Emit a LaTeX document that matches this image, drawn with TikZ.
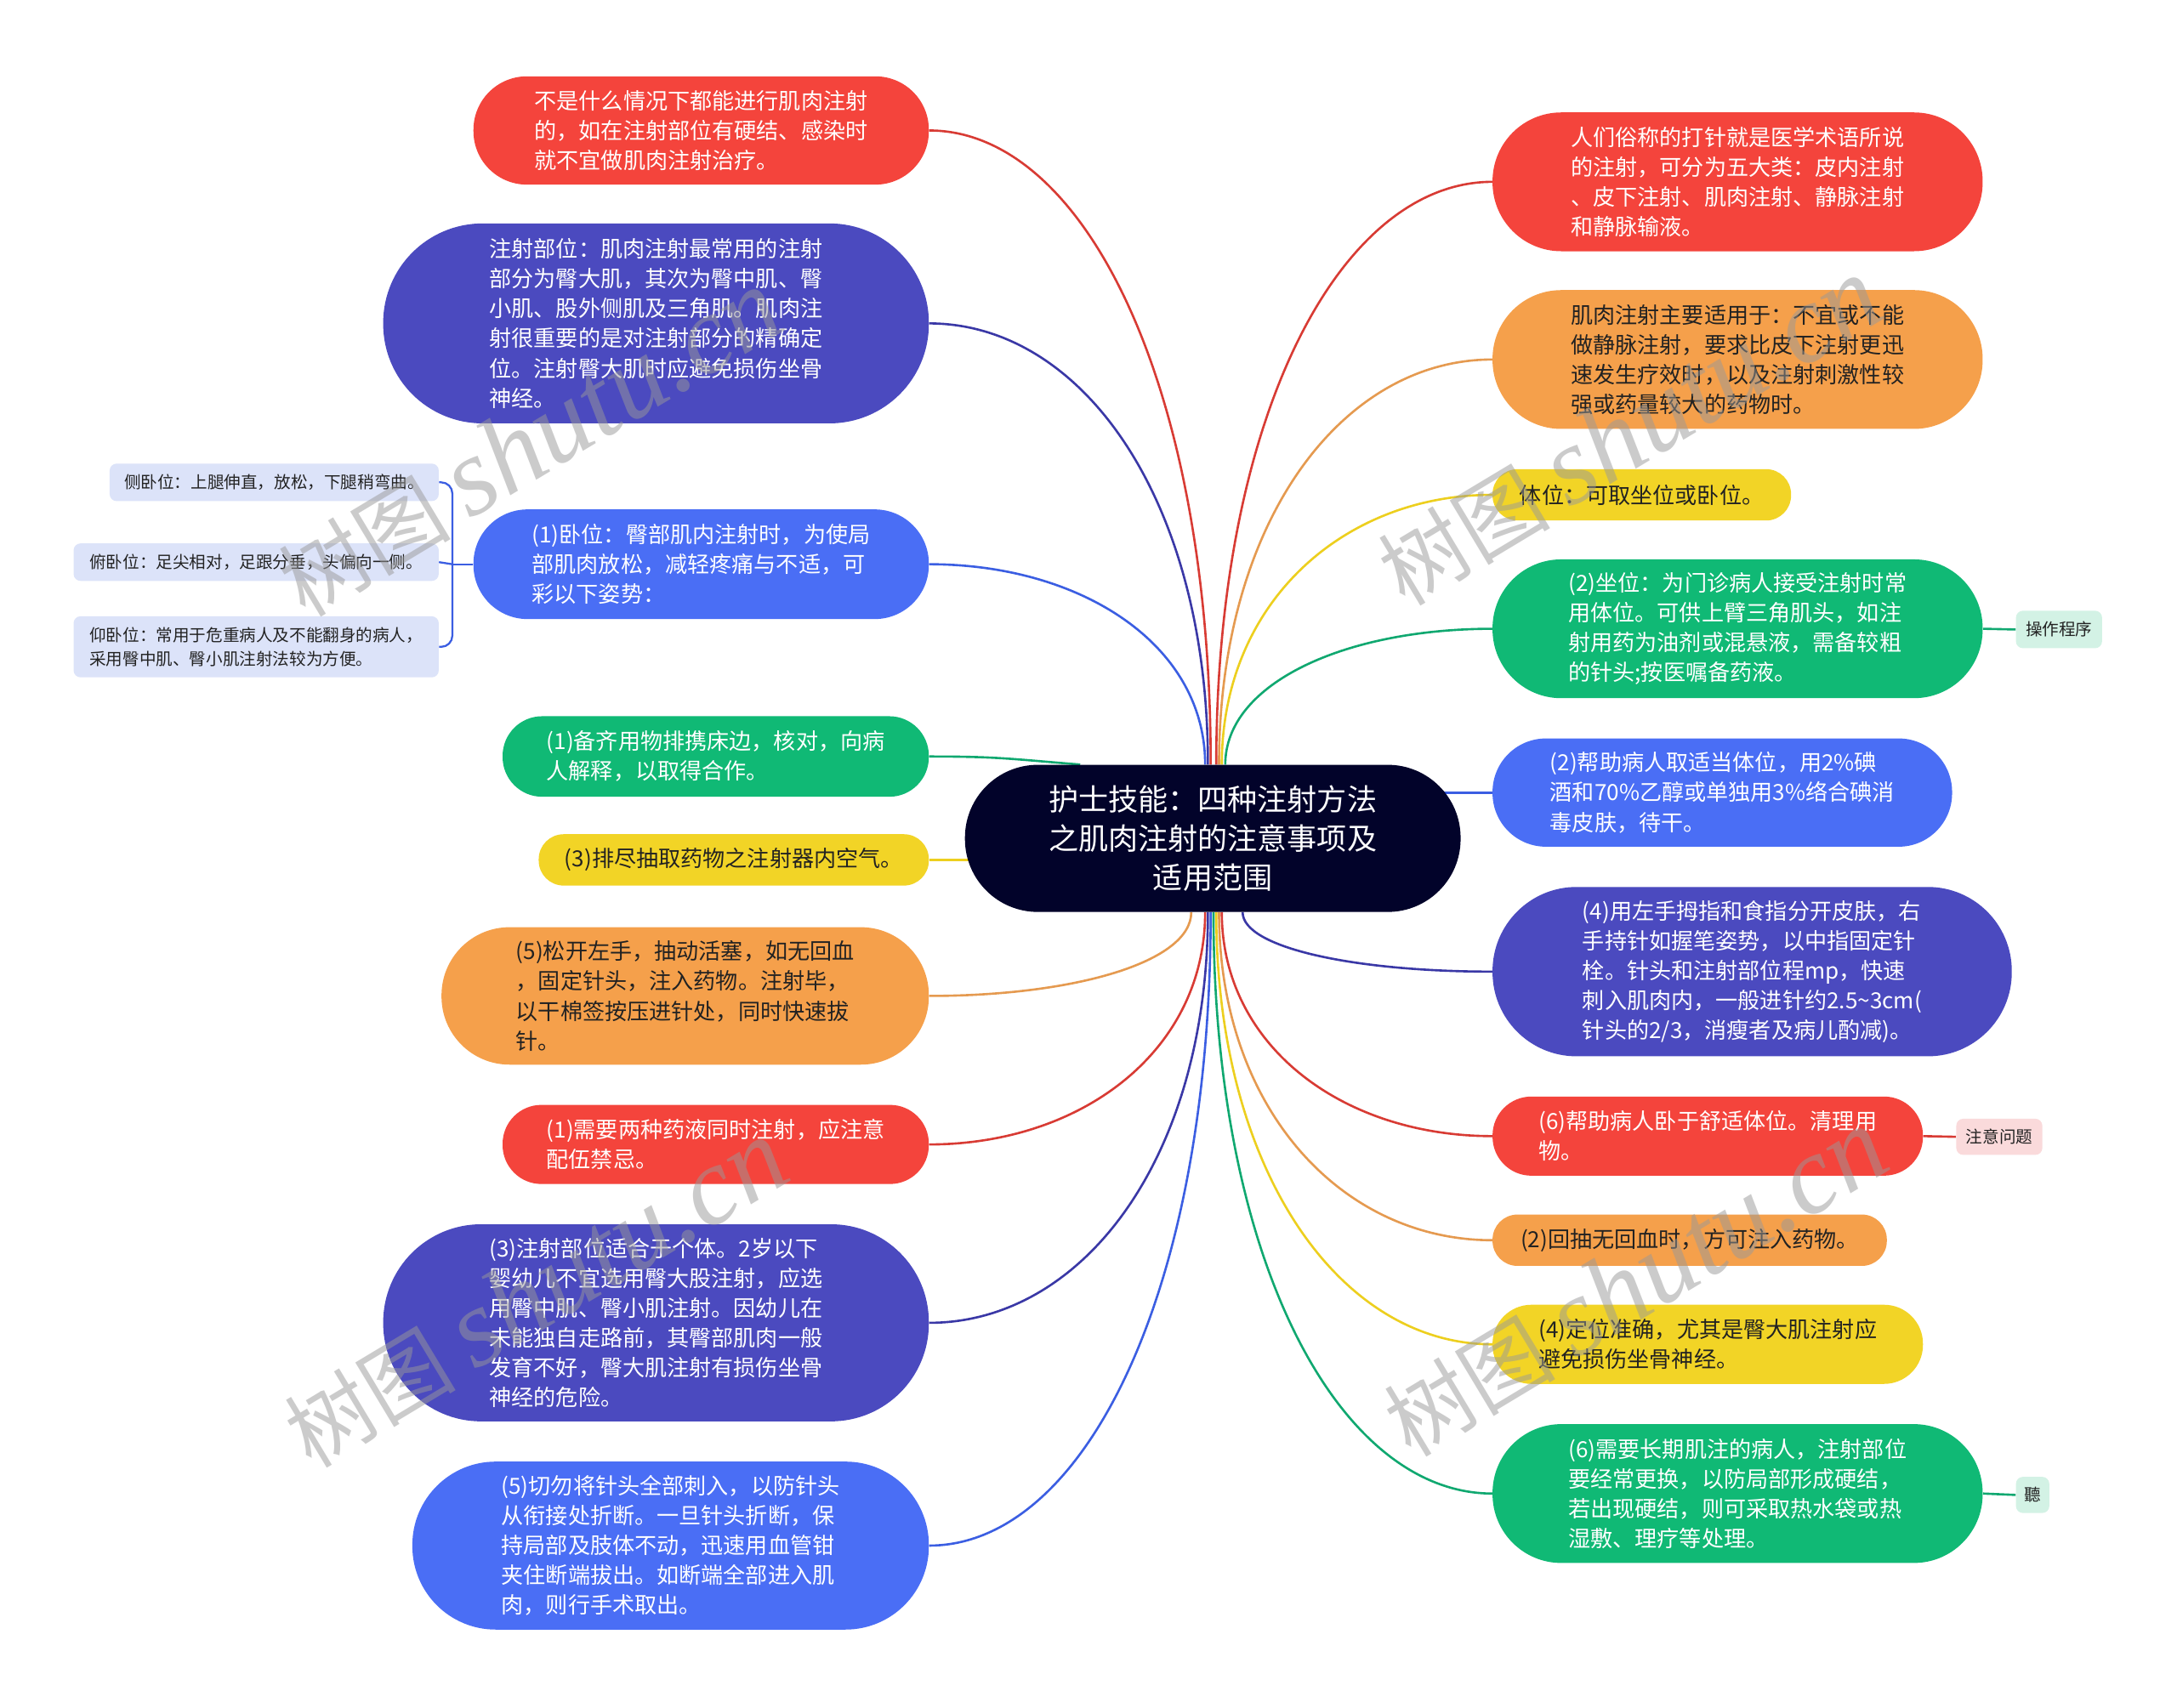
\documentclass[tikz,border=0pt]{standalone}
\usepackage{fontspec}
\setmainfont{Noto Sans CJK SC}
\newfontfamily\wmlat{Liberation Serif}
\usetikzlibrary{calc}
\pgfdeclarelayer{bg}
\pgfsetlayers{bg,main}
\definecolor{cRed}{HTML}{F4443C}
\definecolor{cInd}{HTML}{4B4ABF}
\definecolor{cBlue}{HTML}{4A6EF5}
\definecolor{cGreen}{HTML}{10B975}
\definecolor{cYel}{HTML}{F2D426}
\definecolor{cOra}{HTML}{F5A04B}
\definecolor{cCen}{HTML}{02032A}
\definecolor{cLav}{HTML}{DCE3F9}
\definecolor{cTagG}{HTML}{D3F2E5}
\definecolor{cTagP}{HTML}{FADADB}
\definecolor{cDark}{HTML}{222222}
\definecolor{lRed}{HTML}{D83B34}
\definecolor{lInd}{HTML}{3A38A6}
\definecolor{lBlue}{HTML}{3B5EE2}
\definecolor{lGreen}{HTML}{10A870}
\definecolor{lYel}{HTML}{EDCF1E}
\definecolor{lOra}{HTML}{E59A50}
\definecolor{cWm}{HTML}{999999}
\tikzset{
  pill/.style={rectangle, inner sep=0pt, align=left, font=\fontsize{16}{21.5}\selectfont},
  wt/.style={text=white},
  dk/.style={text=cDark},
  subbox/.style={rectangle, inner sep=0pt, align=left, rounded corners=5pt, fill=cLav, text=cDark, font=\fontsize{12}{17}\selectfont},
  tagbox/.style={rectangle, inner sep=0pt, rounded corners=5pt, text=cDark, font=\fontsize{12}{15}\selectfont},
  link/.style={line width=1.6pt},
  wm/.style={text=cWm, opacity=0.5, rotate=31, anchor=west, inner sep=0pt}
}
\newcommand\conn[3]{\draw[link,#1] (#2) .. controls ($(#2)!0.6!(#2|-#3)$) and ($(#3)!0.55!(#3-|#2)$) .. (#3);}
\newcommand\wmtext{\fontsize{62}{66}\selectfont 树图 {\wmlat\itshape\fontsize{80}{84}\selectfont shutu.cn}}
\begin{document}
\begin{tikzpicture}[x=1pt,y=-1pt]
\useasboundingbox (0,0) rectangle (1568,1230);
% center
\node[pill,wt,align=center,fill=cCen,minimum width=357pt,minimum height=106pt,rounded corners=52.5pt,font=\fontsize{21.5}{28}\selectfont] (C) at (873.5,604) {护士技能：四种注射方法\\之肌肉注射的注意事项及\\适用范围};
% left side
\node[pill,wt,fill=cRed,minimum width=328pt,minimum height=78pt,rounded corners=38.5pt] (L1) at (505,94) {不是什么情况下都能进行肌肉注射\\的，如在注射部位有硬结、感染时\\就不宜做肌肉注射治疗。};
\node[pill,wt,fill=cInd,minimum width=393pt,minimum height=144pt,rounded corners=71.5pt] (L2) at (472.5,233) {注射部位：肌肉注射最常用的注射\\部分为臀大肌，其次为臀中肌、臀\\小肌、股外侧肌及三角肌。肌肉注\\射很重要的是对注射部分的精确定\\位。注射臀大肌时应避免损伤坐骨\\神经。};
\node[pill,wt,fill=cBlue,minimum width=328pt,minimum height=79pt,rounded corners=39pt] (L3) at (505,406.5) {(1)卧位：臀部肌内注射时，为使局\\部肌肉放松，减轻疼痛与不适，可\\彩以下姿势：};
\node[subbox,minimum width=237pt,minimum height=27pt] (S1) at (197.5,347.5) {侧卧位：上腿伸直，放松，下腿稍弯曲。};
\node[subbox,minimum width=263pt,minimum height=27pt] (S2) at (184.5,405) {俯卧位：足尖相对，足跟分垂，头偏向一侧。};
\node[subbox,minimum width=263pt,minimum height=44pt] (S3) at (184.5,466) {仰卧位：常用于危重病人及不能翻身的病人，\\采用臀中肌、臀小肌注射法较为方便。};
\node[pill,wt,fill=cGreen,minimum width=307pt,minimum height=58pt,rounded corners=28.5pt] (L4) at (515.5,545) {(1)备齐用物排携床边，核对，向病\\人解释，以取得合作。};
\node[pill,dk,fill=cYel,minimum width=281pt,minimum height=37pt,rounded corners=18pt] (L5) at (528.5,619.5) {(3)排尽抽取药物之注射器内空气。};
\node[pill,dk,fill=cOra,minimum width=351pt,minimum height=99pt,rounded corners=49pt] (L6) at (493.5,717.5) {(5)松开左手，抽动活塞，如无回血\\，固定针头，注入药物。注射毕，\\以干棉签按压进针处，同时快速拔\\针。};
\node[pill,wt,fill=cRed,minimum width=307pt,minimum height=57pt,rounded corners=28pt] (L7) at (515.5,824.5) {(1)需要两种药液同时注射，应注意\\配伍禁忌。};
\node[pill,wt,fill=cInd,minimum width=393pt,minimum height=142pt,rounded corners=70.5pt] (L8) at (472.5,953) {(3)注射部位适合于个体。2岁以下\\婴幼儿不宜选用臀大股注射，应选\\用臀中肌、臀小肌注射。因幼儿在\\未能独自走路前，其臀部肌肉一般\\发育不好，臀大肌注射有损伤坐骨\\神经的危险。};
\node[pill,wt,fill=cBlue,minimum width=372pt,minimum height=121pt,rounded corners=60pt] (L9) at (483,1113.5) {(5)切勿将针头全部刺入，以防针头\\从衔接处折断。一旦针头折断，保\\持局部及肢体不动，迅速用血管钳\\夹住断端拔出。如断端全部进入肌\\肉，则行手术取出。};
% right side
\node[pill,wt,fill=cRed,minimum width=353pt,minimum height=100pt,rounded corners=49.5pt] (R1) at (1251.5,131) {人们俗称的打针就是医学术语所说\\的注射，可分为五大类：皮内注射\\、皮下注射、肌肉注射、静脉注射\\和静脉输液。};
\node[pill,dk,fill=cOra,minimum width=353pt,minimum height=100pt,rounded corners=49.5pt] (R2) at (1251.5,259) {肌肉注射主要适用于：不宜或不能\\做静脉注射，要求比皮下注射更迅\\速发生疗效时，以及注射刺激性较\\强或药量较大的药物时。};
\node[pill,dk,fill=cYel,minimum width=215pt,minimum height=37pt,rounded corners=18pt] (R3) at (1182.5,356.5) {体位：可取坐位或卧位。};
\node[pill,wt,fill=cGreen,minimum width=353pt,minimum height=100pt,rounded corners=49.5pt] (R4) at (1251.5,453) {(2)坐位：为门诊病人接受注射时常\\用体位。可供上臂三角肌头，如注\\射用药为油剂或混悬液，需备较粗\\的针头;按医嘱备药液。};
\node[tagbox,fill=cTagG,minimum width=62pt,minimum height=27pt] (T1) at (1483,453.5) {操作程序};
\node[pill,wt,fill=cBlue,minimum width=331pt,minimum height=78pt,rounded corners=38.5pt] (R5) at (1240.5,571) {(2)帮助病人取适当体位，用2\%碘\\酒和70\%乙醇或单独用3\%络合碘消\\毒皮肤，待干。};
\node[pill,wt,fill=cInd,minimum width=374pt,minimum height=122pt,rounded corners=60.5pt] (R6) at (1262,700) {(4)用左手拇指和食指分开皮肤，右\\手持针如握笔姿势，以中指固定针\\栓。针头和注射部位程mp，快速\\刺入肌肉内，一般进针约2.5\textasciitilde3cm(\\针头的2/3，消瘦者及病儿酌减)。};
\node[pill,wt,fill=cRed,minimum width=310pt,minimum height=57pt,rounded corners=28pt] (R7) at (1230,818.5) {(6)帮助病人卧于舒适体位。清理用\\物。};
\node[tagbox,fill=cTagP,minimum width=62pt,minimum height=26pt] (T2) at (1440,819) {注意问题};
\node[pill,dk,fill=cOra,minimum width=284pt,minimum height=37pt,rounded corners=18pt] (R8) at (1217,893.5) {(2)回抽无回血时，方可注入药物。};
\node[pill,dk,fill=cYel,minimum width=310pt,minimum height=57pt,rounded corners=28pt] (R9) at (1230,968.5) {(4)定位准确，尤其是臀大肌注射应\\避免损伤坐骨神经。};
\node[pill,wt,fill=cGreen,minimum width=353pt,minimum height=100pt,rounded corners=49.5pt] (R10) at (1251.5,1076) {(6)需要长期肌注的病人，注射部位\\要经常更换，以防局部形成硬结，\\若出现硬结，则可采取热水袋或热\\湿敷、理疗等处理。};
\node[tagbox,fill=cTagG,minimum width=24pt,minimum height=26pt] (T3) at (1464,1077) {聽};
% start points on the central node
\coordinate (a1) at ([xshift=-1.5pt]C.north);
\coordinate (a2) at ([xshift=-3.5pt]C.north);
\coordinate (a3) at ([xshift=-5.5pt]C.north);
\coordinate (a4) at ([xshift=-95.5pt]C.north);
\coordinate (ar1) at ([xshift=2.5pt]C.north);
\coordinate (ar2) at ([xshift=4.5pt]C.north);
\coordinate (ar3) at ([xshift=6.5pt]C.north);
\coordinate (ar4) at ([xshift=9pt]C.north);
\coordinate (b6) at ([xshift=-15.5pt]C.south);
\coordinate (b7) at ([xshift=-5.5pt]C.south);
\coordinate (b8) at ([xshift=-3.5pt]C.south);
\coordinate (b9) at ([xshift=-1.5pt]C.south);
\coordinate (br10) at ([xshift=0.5pt]C.south);
\coordinate (br9) at ([xshift=2.5pt]C.south);
\coordinate (br8) at ([xshift=4.5pt]C.south);
\coordinate (br7) at ([xshift=6.5pt]C.south);
\coordinate (br6) at ([xshift=21.5pt]C.south);
\begin{pgfonlayer}{bg}
\fill[white] (0,0) rectangle (1568,1230);
\conn{lRed}{a1}{L1.east}
\conn{lInd}{a2}{L2.east}
\conn{lBlue}{a3}{L3.east}
\draw[link,lGreen] (L4.east) .. controls ($(L4.east)+(50,0)$) and ($(a4)+(-50,-4)$) .. (a4);
\draw[link,lYel] (L5.east) -- (L5.east -| C.center);
\conn{lOra}{b6}{L6.east}
\conn{lRed}{b7}{L7.east}
\conn{lInd}{b8}{L8.east}
\conn{lBlue}{b9}{L9.east}
\conn{lRed}{ar1}{R1.west}
\conn{lOra}{ar2}{R2.west}
\conn{lYel}{ar3}{R3.west}
\conn{lGreen}{ar4}{R4.west}
\draw[link,lBlue] (R5.west) -- (R5.west -| C.center);
\conn{lInd}{br6}{R6.west}
\conn{lRed}{br7}{R7.west}
\conn{lOra}{br8}{R8.west}
\conn{lYel}{br9}{R9.west}
\conn{lGreen}{br10}{R10.west}
\draw[link,lGreen] (R4.east) -- (T1.west);
\draw[link,lRed] (R7.east) -- (T2.west);
\draw[link,lGreen] (R10.east) -- (T3.west);
\coordinate (bj) at ($(L3.west)+(-15,0)$);
\draw[link,lBlue,line width=1.4pt] (L3.west) -- (bj);
\draw[link,lBlue,line width=1.4pt,rounded corners=8pt] (bj) |- (S1.east);
\draw[link,lBlue,line width=1.4pt,rounded corners=8pt] (bj) |- (S3.east);
\draw[link,lBlue,line width=1.4pt] (bj) -- (S2.east);
\end{pgfonlayer}
% watermarks
\node[wm] (w1) at (207,424) {\wmtext};
\node[wm] (w2) at (999,416) {\wmtext};
\node[wm] (w3) at (211,1037) {\wmtext};
\node[wm] (w4) at (1003,1029) {\wmtext};
\end{tikzpicture}
\end{document}
